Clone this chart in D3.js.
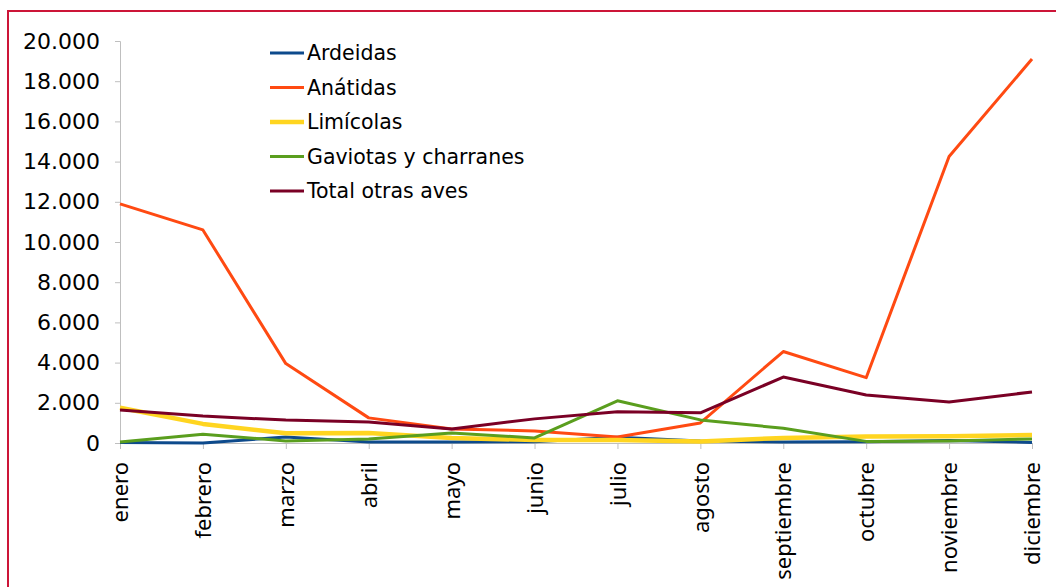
<!DOCTYPE html>
<html>
<head>
<meta charset="utf-8">
<script src="https://cdn.jsdelivr.net/npm/d3@7"></script>
<style>
  body { margin: 0; background: #fff; }
  svg { display: block; }
</style>
</head>
<body>
<div id="chart"></div>
<script>
// datos
var meses = ["enero", "febrero", "marzo", "abril", "mayo", "junio", "julio", "agosto", "septiembre", "octubre", "noviembre", "diciembre"];
var ardeidas  = [30, 0, 300, 50, 50, 60, 280, 100, 50, 60, 120, 30];
var anatidas  = [11900, 10600, 3950, 1250, 700, 600, 300, 1000, 4550, 3250, 14250, 19100];
var limicolas = [1750, 950, 480, 500, 250, 150, 150, 80, 250, 320, 330, 400];
var gaviotas  = [50, 440, 100, 200, 500, 250, 2100, 1150, 730, 80, 100, 200];
var otras     = [1640, 1340, 1140, 1050, 700, 1200, 1550, 1500, 3280, 2390, 2040, 2540];
var yTicks = [0, 2000, 4000, 6000, 8000, 10000, 12000, 14000, 16000, 18000, 20000];

var series = [
  {name: "Ardeidas", values: ardeidas, color: "#0d4a8c", w: 3},
  {name: "Anátidas", values: anatidas, color: "#ff4a12", w: 3},
  {name: "Limícolas", values: limicolas, color: "#ffd520", w: 4.5},
  {name: "Gaviotas y charranes", values: gaviotas, color: "#5a9e1e", w: 3},
  {name: "Total otras aves", values: otras, color: "#7a0025", w: 3}
];

var width = 1056, height = 587;
var svg = d3.select("#chart").append("svg")
    .attr("width", width)
    .attr("height", height);

// marco rojo
svg.append("rect")
    .attr("x", 8).attr("y", 11)
    .attr("width", 1100).attr("height", 700)
    .attr("fill", "none")
    .attr("stroke", "#cc1538")
    .attr("stroke-width", 2);

var x = d3.scalePoint().domain(meses).range([120, 1032]);
var y = d3.scaleLinear().domain([0, 20000]).range([443, 41]);

var fmt = function(d) { return d3.format(",")(d).replace(/,/g, "."); };

var yAxis = svg.append("g")
    .attr("transform", "translate(120,0)")
    .call(d3.axisLeft(y).tickValues(yTicks).tickSize(5).tickPadding(15).tickFormat(fmt));
yAxis.select(".domain").attr("stroke", "#bfbfbf");
yAxis.selectAll(".tick line").attr("stroke", "#bfbfbf");
yAxis.selectAll("text")
    .style("font-family", "'DejaVu Sans', sans-serif")
    .style("font-size", "22px")
    .attr("fill", "#000");

var xAxis = svg.append("g")
    .attr("transform", "translate(0,443)")
    .call(d3.axisBottom(x).tickSize(6).tickSizeOuter(0));
xAxis.select(".domain").attr("stroke", "#bfbfbf");
xAxis.selectAll(".tick line").attr("stroke", "#bfbfbf");
xAxis.selectAll("text")
    .attr("transform", "rotate(-90)")
    .attr("x", -19)
    .attr("y", 0)
    .attr("dy", "0.35em")
    .style("text-anchor", "end")
    .style("font-family", "'Noto Sans', sans-serif")
    .style("font-size", "22px")
    .attr("fill", "#000");

var line = d3.line()
    .x(function(d, i) { return x(meses[i]); })
    .y(function(d) { return y(d); });

svg.selectAll(".serie")
    .data(series)
    .enter()
    .append("path")
    .attr("class", "serie")
    .attr("d", d => line(d.values))
    .attr("fill", "none")
    .attr("stroke", d => d.color)
    .attr("stroke-width", d => d.w)
    .attr("stroke-linejoin", "round");

// leyenda
var legend = svg.selectAll(".leg")
    .data(series)
    .enter()
    .append("g")
    .attr("class", "leg")
    .attr("transform", (d, i) => "translate(270," + (53 + i * 34.5) + ")");

legend.append("line")
    .attr("x1", 0).attr("x2", 34)
    .attr("stroke", d => d.color)
    .attr("stroke-width", d => d.w);

legend.append("text")
    .attr("x", 37)
    .attr("dy", "0.35em")
    .style("font-family", "'DejaVu Sans', sans-serif")
    .style("font-size", "20.5px")
    .text(d => d.name);
</script>
</body>
</html>
